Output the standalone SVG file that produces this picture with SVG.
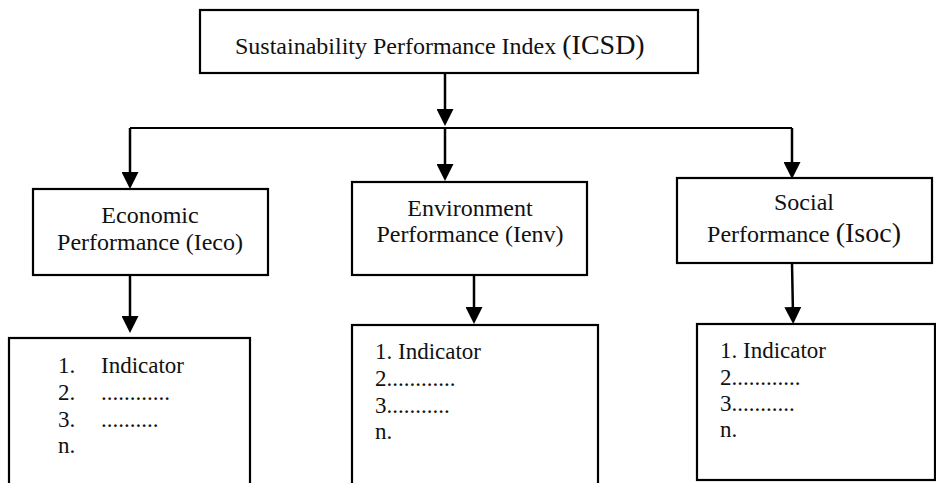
<svg xmlns="http://www.w3.org/2000/svg" width="936" height="483" viewBox="0 0 936 483">
  <style>
    .box { fill: #ffffff; stroke: #000000; stroke-width: 2.2; }
    .wire { fill: none; stroke: #000000; stroke-width: 2.5; }
    .lbl { font-size: 24px; fill: #111111; }
    .mid { text-anchor: middle; }
    .big { font-size: 28px; }
    .lst { font-size: 23px; fill: #111111; }
  </style>
  <defs>
    <marker id="head" viewBox="0 0 17 17" refX="8" refY="8.5" markerWidth="17" markerHeight="17" markerUnits="userSpaceOnUse" orient="auto">
      <path d="M0,0 L17,8.5 L0,17 z" fill="#000000"/>
    </marker>
  </defs>

  <!-- connectors -->
  <g id="connectors">
    <path class="wire" d="M445,73 L445,117" marker-end="url(#head)"/>
    <path class="wire" d="M130,128 L792,128" style="stroke-width:2"/>
    <path class="wire" d="M130,128 L130,180" marker-end="url(#head)"/>
    <path class="wire" d="M445,128 L445,172" marker-end="url(#head)"/>
    <path class="wire" d="M792,128 L792,170" marker-end="url(#head)"/>
    <path class="wire" d="M130,275 L130,324" marker-end="url(#head)"/>
    <path class="wire" d="M474,275 L474,315" marker-end="url(#head)"/>
    <path class="wire" d="M792,263 L793,315" marker-end="url(#head)"/>
  </g>

  <g font-family="Liberation Serif, DejaVu Serif, serif">
  <!-- top index -->
  <g id="icsd">
    <rect class="box" x="200" y="10" width="498" height="63"/>
    <text class="lbl" x="235" y="54">Sustainability Performance Index <tspan class="big">(ICSD)</tspan></text>
  </g>

  <!-- second level -->
  <g id="ieco">
    <rect class="box" x="33" y="189" width="235" height="86"/>
    <text class="lbl mid" x="150" y="223">Economic</text>
    <text class="lbl mid" x="150" y="250">Performance (Ieco)</text>
  </g>
  <g id="ienv">
    <rect class="box" x="352" y="182" width="235" height="93"/>
    <text class="lbl mid" x="470" y="216">Environment</text>
    <text class="lbl mid" x="470" y="242">Performance (Ienv)</text>
  </g>
  <g id="isoc">
    <rect class="box" x="677" y="178" width="255" height="85"/>
    <text class="lbl mid" x="804" y="210">Social</text>
    <text class="lbl mid" x="804" y="242">Performance <tspan class="big">(Isoc)</tspan></text>
  </g>

  <!-- indicator lists -->
  <g id="eco-list">
    <rect class="box" x="9" y="338" width="241" height="160"/>
    <text class="lst" x="58" y="373">1.</text>
    <text class="lst" x="101" y="373">Indicator</text>
    <text class="lst" x="58" y="400">2.</text>
    <text class="lst" x="101" y="400">............</text>
    <text class="lst" x="58" y="427">3.</text>
    <text class="lst" x="101" y="427">..........</text>
    <text class="lst" x="58" y="453">n.</text>
  </g>
  <g id="env-list">
    <rect class="box" x="352" y="325" width="246" height="173"/>
    <text class="lst" x="375" y="359">1. Indicator</text>
    <text class="lst" x="375" y="386">2............</text>
    <text class="lst" x="375" y="413">3...........</text>
    <text class="lst" x="375" y="439">n.</text>
  </g>
  <g id="soc-list">
    <rect class="box" x="697" y="324" width="238" height="156"/>
    <text class="lst" x="720" y="358">1. Indicator</text>
    <text class="lst" x="720" y="385">2............</text>
    <text class="lst" x="720" y="411">3...........</text>
    <text class="lst" x="720" y="437">n.</text>
  </g>
  </g>
</svg>
